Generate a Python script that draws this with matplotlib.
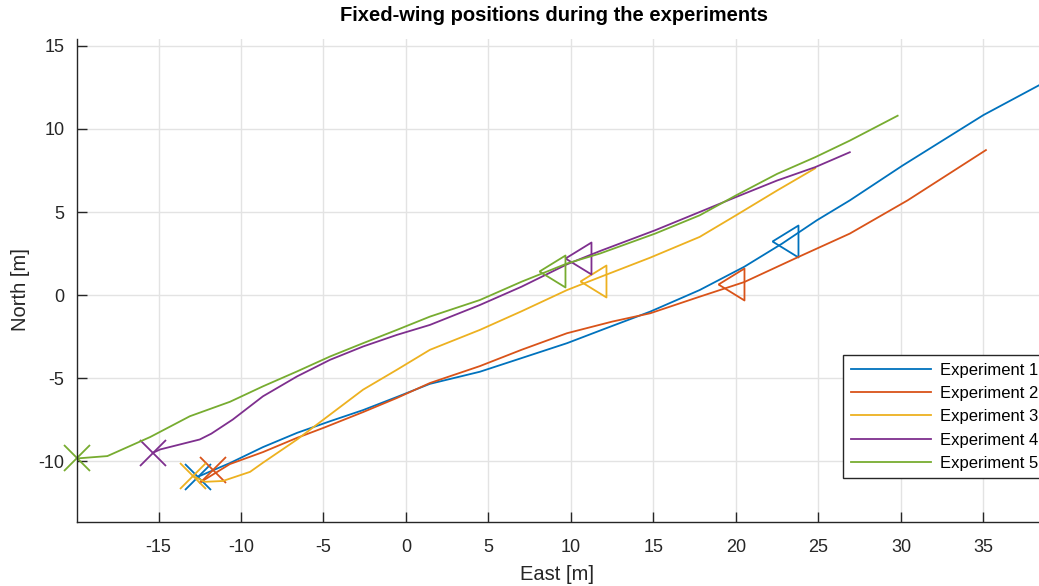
import matplotlib
matplotlib.use("Agg")
import matplotlib.pyplot as plt

plt.rcParams['font.family'] = ['Liberation Sans', 'DejaVu Sans']
plt.rcParams['axes.unicode_minus'] = False

# East / North track of each flight [m]
e1_x = [-12.6, -10.67, -8.67, -6.6, -4.6, -2.6, -0.55, 1.45, 4.48, 7.0, 9.76, 12.0,
        14.8, 17.8, 20.5, 22.8, 24.9, 26.9, 30.1, 35.0, 38.4, 40.0]
e1_y = [-10.94, -10.12, -9.16, -8.3, -7.6, -6.93, -6.14, -5.35, -4.62, -3.8, -2.9, -2.05,
        -1.0, 0.3, 1.7, 3.1, 4.5, 5.7, 7.8, 10.84, 12.65, 13.5]

e2_x = [-12.5, -10.67, -8.67, -6.6, -5.0, -2.6, -0.55, 1.45, 4.48, 7.0, 9.76, 12.5,
        14.8, 17.8, 20.5, 23.8, 26.9, 30.4, 35.15]
e2_y = [-11.3, -10.18, -9.46, -8.6, -8.0, -7.05, -6.2, -5.3, -4.28, -3.3, -2.3, -1.6,
        -1.1, -0.1, 0.78, 2.3, 3.7, 5.7, 8.73]

e3_x = [-12.9, -12.2, -11.1, -9.45, -8.67, -6.6, -4.6, -2.6, -0.55, 1.45, 4.48, 7.0,
        9.76, 11.76, 14.8, 17.8, 20.0, 22.5, 24.8]
e3_y = [-10.9, -11.25, -11.2, -10.65, -10.1, -8.7, -7.2, -5.7, -4.5, -3.3, -2.1, -0.98,
        0.3, 1.08, 2.25, 3.5, 4.8, 6.3, 7.63]

e4_x = [-15.33, -14.9, -13.5, -12.5, -11.8, -10.5, -8.67, -6.6, -4.6, -2.6, -0.55, 1.45,
        4.48, 7.0, 9.76, 11.76, 15.1, 17.8, 20.0, 22.5, 24.8, 26.9]
e4_y = [-9.5, -9.3, -8.95, -8.7, -8.35, -7.5, -6.1, -4.9, -3.9, -3.1, -2.4, -1.8,
        -0.6, 0.5, 1.85, 2.65, 3.9, 5.0, 5.9, 6.9, 7.7, 8.6]

e5_x = [-19.92, -18.1, -15.5, -13.1, -10.67, -8.67, -6.6, -4.6, -2.6, -0.55, 1.45, 4.48,
        7.0, 9.76, 11.76, 15.1, 17.8, 20.0, 22.5, 24.8, 26.9, 29.8]
e5_y = [-9.84, -9.7, -8.55, -7.3, -6.43, -5.5, -4.6, -3.7, -2.9, -2.1, -1.3, -0.3,
        0.8, 1.9, 2.5, 3.7, 4.8, 6.0, 7.3, 8.3, 9.3, 10.8]

# start positions (x) and heading markers (<)
start_x = [-12.6, -11.7, -12.9, -15.33, -19.92]
start_y = [-10.94, -10.54, -10.9, -9.5, -9.84]
mark_x = [22.97, 19.7, 11.33, 10.42, 8.85]
mark_y = [3.25, 0.66, 0.84, 2.23, 1.45]

labels = ['Experiment 1', 'Experiment 2', 'Experiment 3', 'Experiment 4', 'Experiment 5']
colors = ['#0072BD', '#D95319', '#EDB120', '#7E2F8E', '#77AC30']

tracks = [(e1_x, e1_y), (e2_x, e2_y), (e3_x, e3_y), (e4_x, e4_y), (e5_x, e5_y)]

# left-pointing triangle, a bit narrower than it is tall
heading = [(-13, 0), (13, -16), (13, 16), (-13, 0)]

W, H = 1039, 586
fig = plt.figure(figsize=(W / 100, H / 100), dpi=100)
ax = fig.add_axes([77 / W, 1 - 522 / H, (1060 - 77) / W, (522 - 39) / H])

handles = []
for i, (xs, ys) in enumerate(tracks):
    h, = ax.plot(xs, ys, color=colors[i], lw=1.3, label=labels[i])
    handles.append(h)
    ax.plot(start_x[i], start_y[i], marker='x', ms=19, mew=1.3, color=colors[i],
            ls='none', clip_on=False)
    ax.plot(mark_x[i], mark_y[i], marker=heading, ms=23, mew=1.3, mfc='none',
            mec=colors[i], ls='none')

ax.set_xlim(-19.94, 39.64)
ax.set_ylim(-13.67, 15.42)
ax.set_xticks(range(-15, 40, 5))
ax.set_yticks(range(-10, 20, 5))
ax.grid(True, color='#e3e3e3', lw=1.0)
ax.set_axisbelow(True)
for s in ['top', 'right']:
    ax.spines[s].set_visible(False)
for s in ['left', 'bottom']:
    ax.spines[s].set_color('#262626')
    ax.spines[s].set_linewidth(1.0)
ax.tick_params(direction='in', length=7, width=1.0, color='#262626',
               labelsize=13, labelcolor='#262626')
ax.tick_params(axis='x', pad=12)
ax.tick_params(axis='y', pad=9)

ax.set_xlabel('East [m]', fontsize=14.5, color='#262626')
ax.set_ylabel('North [m]', fontsize=14.5, color='#262626')
ax.xaxis.set_label_coords((557 - 77) / (1060 - 77), -(575 - 522) / (522 - 39), transform=ax.transAxes)
ax.yaxis.set_label_coords(-(77 - 20) / (1060 - 77), (522 - 290) / (522 - 39), transform=ax.transAxes)
ax.xaxis.label.set_va('center')
ax.yaxis.label.set_va('center')

ax.set_title('Fixed-wing positions during the experiments', fontsize=14.5, fontweight='bold',
             x=(554.5 - 77) / (1060 - 77), y=1.0, pad=13)

leg = ax.legend(handles=handles, loc='upper left', bbox_to_anchor=(843 / W, 1 - 355 / H),
                bbox_transform=fig.transFigure, fontsize=12, handlelength=4.8,
                handletextpad=0.55, labelspacing=0.5, borderpad=0.45, borderaxespad=0,
                fancybox=False, framealpha=1, edgecolor='#262626')
leg.get_frame().set_linewidth(1.0)

fig.savefig('out.png', dpi=100)
